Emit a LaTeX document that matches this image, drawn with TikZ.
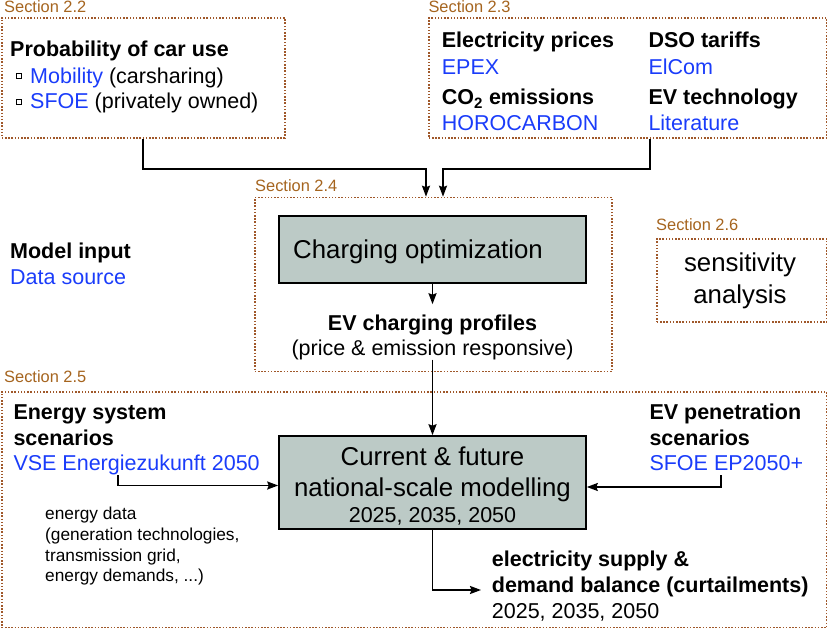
\documentclass[tikz,border=0pt]{standalone}
\usepackage{fontspec}
\setmainfont{Liberation Sans}
\usetikzlibrary{arrows.meta}
\definecolor{secbrown}{HTML}{A5641E}
\definecolor{dotbrown}{HTML}{A0582A}
\definecolor{srcblue}{HTML}{1A3CFA}
\definecolor{boxfill}{HTML}{BCCAC6}
\tikzset{
  dbox/.style={draw=dotbrown, line width=1.6pt, dash pattern=on 1.5pt off 1.7pt, anchor=north west, inner sep=0pt, fill=none},
  gbox/.style={draw=black, line width=1.6pt, fill=boxfill, inner sep=0pt},
  sec/.style={anchor=base west, inner sep=0pt, text=secbrown, font=\fontsize{16.4}{19}\selectfont},
  tx/.style={anchor=base west, inner sep=0pt, font=\fontsize{21.5}{26}\selectfont},
  bt/.style={tx, font=\fontsize{21.5}{26}\selectfont\bfseries},
  bl/.style={tx, text=srcblue},
  big/.style={anchor=base, inner sep=0pt, font=\fontsize{25.8}{31}\selectfont},
  sm/.style={anchor=base west, inner sep=0pt, font=\fontsize{17.3}{21}\selectfont},
  arr/.style={draw=black, line width=1.8pt, -{Stealth[length=11pt,width=8pt,inset=1.5pt]}},
  bullet/.style={draw=black, line width=0.9pt, minimum size=5pt, inner sep=0pt}
}
\begin{document}
\begin{tikzpicture}[x=1pt,y=-1pt]
\useasboundingbox (0,0) rectangle (827,628);
% Section 2.2
\node[sec] (l22) at (4,13) {Section 2.2};
\node[dbox, minimum width=283pt, minimum height=120pt] (s22) at (1,17) {};
\node[bt] (pcu) at (10,57) {Probability of car use};
\node[bullet] (b1) at (19.3,76) {};
\node[bullet] (b2) at (19.3,101.5) {};
\node[tx] (mob) at (30,83.5) {\textcolor{srcblue}{Mobility} (carsharing)};
\node[tx] (sfoe) at (30,109) {\textcolor{srcblue}{SFOE} (privately owned)};
% Section 2.3
\node[sec] (l23) at (428.3,13) {Section 2.3};
\node[dbox, minimum width=398pt, minimum height=120pt] (s23) at (428,17) {};
\node[bt] (ep) at (441.7,48) {Electricity prices};
\node[bl] (epex) at (441.7,74.5) {EPEX};
\node[bt] (co2) at (441.7,105) {CO\textsubscript{2} emissions};
\node[bl] (horo) at (441.7,131) {HOROCARBON};
\node[bt] (dso) at (648.3,48) {DSO tariffs};
\node[bl] (elcom) at (648.3,74.5) {ElCom};
\node[bt] (evt) at (648.3,105) {EV technology};
\node[bl] (lit) at (648.3,131) {Literature};
% Model input legend
\node[bt] (mi) at (10,258.5) {Model input};
\node[bl] (ds) at (10,285) {Data source};
% Section 2.4
\node[sec] (l24) at (255,192) {Section 2.4};
\node[dbox, minimum width=357pt, minimum height=174pt] (s24) at (254,196.7) {};
\node[gbox, minimum width=307pt, minimum height=67pt] (copt) at (432.5,249.5) {};
\node[big] (coptt) at (418,258.5) {Charging optimization};
\node[bt, anchor=base] (evp) at (432.5,330) {EV charging profiles};
\node[tx, anchor=base] (evp2) at (432.5,355) {(price \& emission responsive)};
% Section 2.6
\node[sec] (l26) at (656,231) {Section 2.6};
\node[dbox, minimum width=170pt, minimum height=83pt] (s26) at (656,238) {};
\node[big] (sens) at (740,272) {sensitivity};
\node[big] (ana) at (740,303.5) {analysis};
% Section 2.5
\node[sec] (l25) at (4,382) {Section 2.5};
\node[dbox, minimum width=825pt, minimum height=236pt] (s25) at (1,391) {};
\node[bt] (ess1) at (13.3,419.5) {Energy system};
\node[bt] (ess2) at (13.3,445.5) {scenarios};
\node[bl] (vse) at (13.3,470.5) {VSE Energiezukunft 2050};
\node[sm] (ed1) at (45,519.5) {energy data};
\node[sm] (ed2) at (45,540.3) {(generation technologies,};
\node[sm] (ed3) at (45,561) {transmission grid,};
\node[sm] (ed4) at (45,581.7) {energy demands, ...)};
\node[bt] (evs1) at (649.3,419.5) {EV penetration};
\node[bt] (evs2) at (649.3,445.5) {scenarios};
\node[bl] (sep) at (649.3,470.5) {SFOE EP2050+};
\node[gbox, minimum width=307pt, minimum height=93pt] (mbox) at (432.5,482.5) {};
\node[big] (m1) at (432.5,465.5) {Current \& future};
\node[big] (m2) at (432.5,496.5) {national-scale modelling};
\node[tx, anchor=base] (m3) at (432.5,522.5) {2025, 2035, 2050};
\node[bt] (es1) at (491.7,566) {electricity supply \&};
\node[bt] (es2) at (491.7,592.5) {demand balance (curtailments)};
\node[tx] (es3) at (491.7,618) {2025, 2035, 2050};
% connectors
\coordinate (j1) at (426,169);
\coordinate (j2) at (443,169);
\draw[arr] (s22.south) |- (j1) -- (j1 |- s24.north);
\draw[arr] ([xshift=22pt]s23.south) |- (j2) -- (j2 |- s24.north);
\draw[arr] (copt.south) -- ([yshift=10pt]evp.north);
\draw[arr] (evp2.south) -- (mbox.north);
\coordinate (va) at (118,475);
\coordinate (vk) at (118,485.5);
\draw[arr] (va) -- (vk) -- (vk -| mbox.west);
\coordinate (sa) at (721,475);
\coordinate (sk) at (721,487);
\draw[arr] (sa) -- (sk) -- (sk -| mbox.east);
\coordinate (ok) at (481,590);
\draw[arr] (mbox.south) |- (ok);
\end{tikzpicture}
\end{document}
